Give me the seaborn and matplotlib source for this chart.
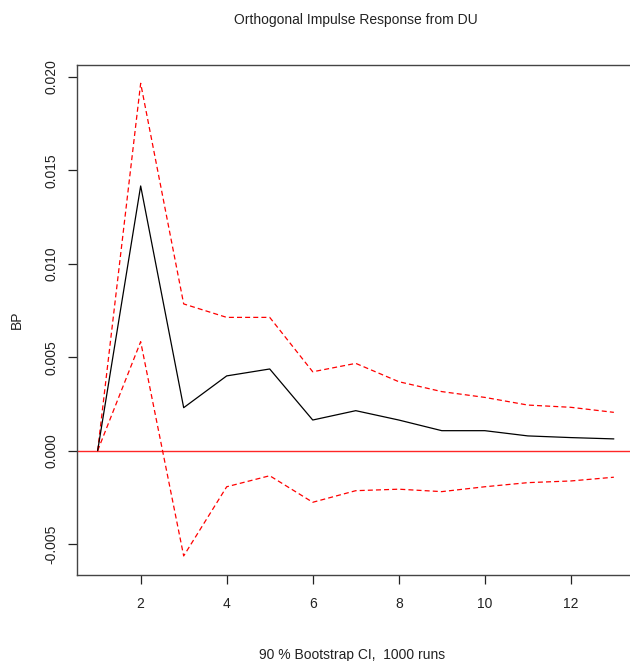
import matplotlib
matplotlib.use("Agg")
import matplotlib.pyplot as plt
import seaborn as sns
import pandas as pd

# Orthogonal impulse response of BP to a shock in DU, with bootstrap bands
horizon = [1, 2, 3, 4, 5, 6, 7, 8, 9, 10, 11, 12, 13]
irf = [0.0, 0.01416, 0.0023, 0.0040, 0.00437, 0.00164, 0.00214, 0.00164,
       0.00107, 0.00107, 0.00079, 0.0007, 0.00063]
upper = [0.0, 0.01965, 0.00785, 0.00713, 0.00713, 0.00422, 0.00467, 0.00369,
         0.00316, 0.00285, 0.00244, 0.00232, 0.00205]
lower = [0.0, 0.00583, -0.00563, -0.00193, -0.00134, -0.00276, -0.00214,
         -0.00206, -0.00219, -0.00193, -0.00171, -0.00162, -0.00142]

df = pd.DataFrame({"step": horizon, "irf": irf, "upper": upper, "lower": lower})

sns.set_theme(style="ticks")
plt.rcParams["font.family"] = ["Liberation Sans", "DejaVu Sans"]

W, H = 630, 661
fig = plt.figure(figsize=(W / 100, H / 100), dpi=100)
left_px, right_px, top_px, bottom_px = 77, 634.5, 65, 575
ax = fig.add_axes([left_px / W, 1 - bottom_px / H,
                   (right_px - left_px) / W, (bottom_px - top_px) / H])

ax.axhline(0, color="#ff0000", lw=1.0, alpha=0.85, zorder=1)
sns.lineplot(data=df, x="step", y="irf", color="black", lw=0.9, ax=ax, zorder=3)
sns.lineplot(data=df, x="step", y="upper", color="#ff0000", lw=0.9,
             ax=ax, zorder=2, dashes=False, linestyle=(0, (4, 2.5)))
sns.lineplot(data=df, x="step", y="lower", color="#ff0000", lw=0.9,
             ax=ax, zorder=2, dashes=False, linestyle=(0, (4, 2.5)))

ax.set_xlim(0.52, 13.48)
ax.set_ylim(-0.00665, 0.02063)
ax.set_xticks([2, 4, 6, 8, 10, 12])
ax.set_yticks([-0.005, 0.0, 0.005, 0.010, 0.015, 0.020])
ax.set_yticklabels(["-0.005", "0.000", "0.005", "0.010", "0.015", "0.020"],
                   rotation=90, va="center")
ax.tick_params(axis="both", direction="out", length=6.5, width=0.9,
               color="#222222", labelsize=10, labelcolor="#222222")
ax.tick_params(axis="x", pad=9)
ax.tick_params(axis="y", pad=7)

for side in ["left", "bottom", "top"]:
    ax.spines[side].set_color("#444444")
    ax.spines[side].set_linewidth(1.0)
ax.spines["right"].set_visible(False)

ax.set_xlabel("")
ax.set_ylabel("")

fig.text(356 / W, 1 - 20 / H, "Orthogonal Impulse Response from DU",
         ha="center", va="center", fontsize=10, color="#222222")
fig.text(352 / W, 1 - 655 / H, "90 % Bootstrap CI,  1000 runs",
         ha="center", va="center", fontsize=10, color="#222222")
fig.text(17 / W, 1 - 320 / H, "BP", ha="center", va="center",
         rotation=90, fontsize=10, color="#222222")

fig.savefig("out.png", dpi=100, facecolor="white")
